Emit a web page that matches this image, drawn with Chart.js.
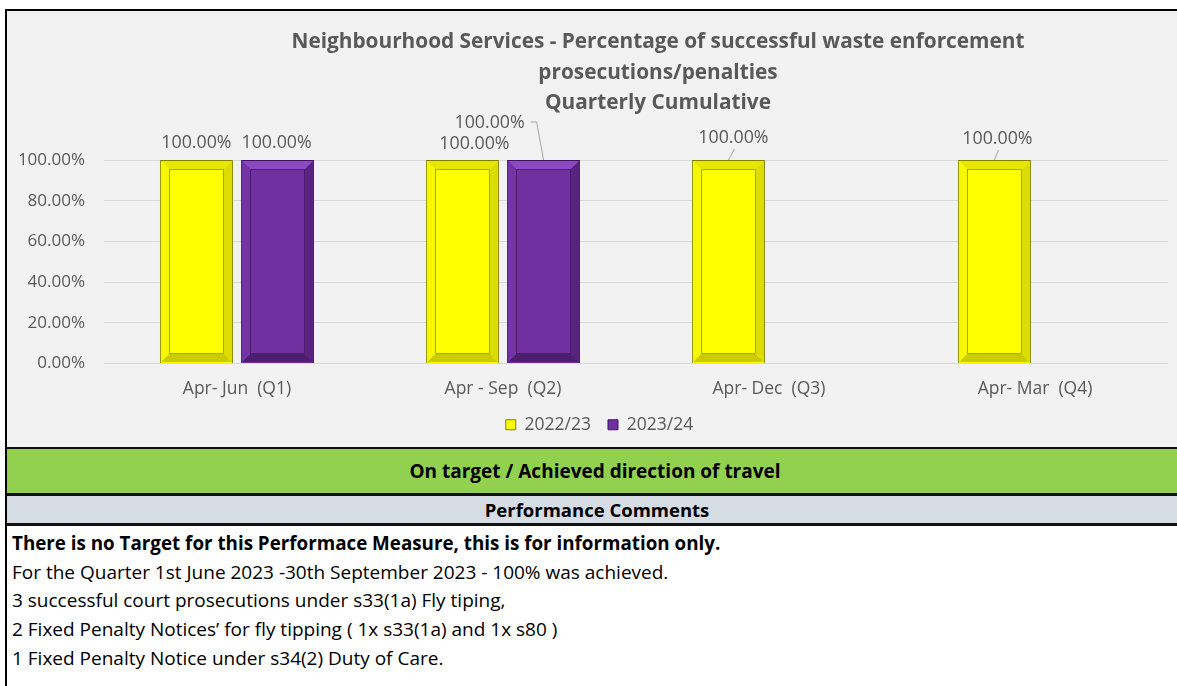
<!DOCTYPE html>
<html>
<head>
<meta charset="utf-8">
<script src="https://cdn.jsdelivr.net/npm/chart.js@4.4.0/dist/chart.umd.min.js"></script>
<style>
  html, body { margin:0; padding:0; background:#fff; width:1177px; height:686px; overflow:hidden; }
  body { font-family: "Open Sans", Lato, sans-serif; }
  #frame { position:absolute; left:5px; top:9px; width:1172px; height:677px; border-left:2px solid #000; border-top:2px solid #000; }
  #chartbox { position:relative; height:436px; background:#f2f2f2; }
  #chartbox canvas { position:absolute; left:0; top:0; }
  #title { position:absolute; top:14px; left:651px; transform:translateX(-50%); white-space:nowrap; text-align:center;
           font-weight:bold; font-size:20.8px; line-height:30.5px; color:#595959; }
  .line2 { height:2px; background:#111; }
  .line3 { height:3px; background:#111; }
  #status { height:44px; background:#92d050; font-weight:bold; font-size:19px; color:#000; display:flex; align-items:center; justify-content:center; padding-left:4px; }
  #comhead { height:27px; background:#d6dce4; font-weight:bold; font-size:18.5px; color:#000; display:flex; align-items:center; justify-content:center; padding-left:8px; }
  #comments { padding:3px 0 0 5px; font-size:19px; line-height:28.7px; color:#000; }
  #comments b { font-weight:bold; font-size:18.8px; }
</style>
</head>
<body>
<div id="frame">
  <div id="chartbox">
    <canvas id="c" width="1170" height="436"></canvas>
    <div id="title">Neighbourhood Services - Percentage of successful waste enforcement<br>prosecutions/penalties<br>Quarterly Cumulative</div>
  </div>
  <div class="line2"></div>
  <div id="status">On target / Achieved direction of travel</div>
  <div class="line3"></div>
  <div id="comhead">Performance Comments</div>
  <div class="line3"></div>
  <div id="comments">
    <b>There is no Target for this Performace Measure, this is for information only.</b><br>
    For the Quarter 1st June 2023 -30th September 2023 - 100% was achieved.<br>
    3 successful court prosecutions under s33(1a) Fly tiping,<br>
    2 Fixed Penalty Notices’ for fly tipping ( 1x s33(1a) and 1x s80 )<br>
    1 Fixed Penalty Notice under s34(2) Duty of Care.
  </div>
</div>
<script>
// ---- data ----
const categories = ["Apr- Jun  (Q1)", "Apr - Sep  (Q2)", "Apr- Dec  (Q3)", "Apr- Mar  (Q4)"];
const series2223 = [100, 100, 100, 100];
const series2324 = [100, 100, null, null];
const seriesNames = ["2022/23", "2023/24"];
const yTicks = [0, 20, 40, 60, 80, 100];

// ---- styles ----
const TEXT = "#595959";
const FONT = "'Open Sans', Lato, sans-serif";
const bevelStyles = [
  { top:"#e6e600", left:"#f7f700", right:"#dcdc00", bottom:"#cbcb00", inner:"#a8a800" },
  { top:"#8c48bf", left:"#7434a4", right:"#58237f", bottom:"#4d1e70", inner:"#4a1c6c" }
];
// label placement relative to the bar's top centre (dx, dy) with optional leader line
const labelPlacement = [
  [ {dx:0, dy:-17}, {dx:12, dy:-16}, {dx:5, dy:-22, leader:true}, {dx:3, dy:-21, leader:true} ],
  [ {dx:-1, dy:-17}, {dx:-54, dy:-37, leader:true, elbow:true}, null, null ]
];
const legendShift = { dx: 12, dy: -3.5 };

const legendShiftPlugin = {
  id: 'legendShift',
  afterLayout(chart) {
    const lg = chart.legend;
    if (!lg) return;
    lg.left += legendShift.dx; lg.right += legendShift.dx;
    lg.top += legendShift.dy; lg.bottom += legendShift.dy;
  }
};

const bevelPlugin = {
  id: 'bevel',
  afterDatasetsDraw(chart) {
    const ctx = chart.ctx;
    chart.data.datasets.forEach((ds, di) => {
      const meta = chart.getDatasetMeta(di);
      const st = bevelStyles[di];
      meta.data.forEach((bar, i) => {
        if (ds.data[i] == null) return;
        const p = bar.getProps(['x','y','base','width'], true);
        const L = p.x - p.width/2 + 1, R = p.x + p.width/2 - 1, T = p.y + 1, B = p.base - 1;
        const k = 8;
        const poly = (pts, c) => { ctx.beginPath(); ctx.moveTo(pts[0][0], pts[0][1]); pts.slice(1).forEach(q => ctx.lineTo(q[0], q[1])); ctx.closePath(); ctx.fillStyle = c; ctx.fill(); };
        ctx.save();
        poly([[L,T],[R,T],[R-k,T+k],[L+k,T+k]], st.top);
        poly([[R,T],[R,B],[R-k,B-k],[R-k,T+k]], st.right);
        poly([[L,B],[R,B],[R-k,B-k],[L+k,B-k]], st.bottom);
        poly([[L,T],[L+k,T+k],[L+k,B-k],[L,B]], st.left);
        ctx.strokeStyle = st.inner; ctx.lineWidth = 1;
        ctx.strokeRect(Math.round(L+k)+0.5, Math.round(T+k)+0.5, Math.round(R-L-2*k)-1, Math.round(B-T-2*k)-1);
        ctx.restore();
      });
    });
  }
};

const labelPlugin = {
  id: 'valueLabels',
  afterDatasetsDraw(chart) {
    const ctx = chart.ctx;
    ctx.save();
    ctx.font = "17.8px " + FONT;
    ctx.fillStyle = TEXT;
    ctx.textAlign = 'center';
    ctx.textBaseline = 'middle';
    chart.data.datasets.forEach((ds, di) => {
      const meta = chart.getDatasetMeta(di);
      meta.data.forEach((bar, i) => {
        const v = ds.data[i];
        if (v == null) return;
        const pl = labelPlacement[di][i] || {dx:0, dy:-17};
        const tx = bar.x + pl.dx, ty = bar.y + pl.dy;
        const txt = v.toFixed(2) + '%';
        if (pl.leader) {
          ctx.strokeStyle = '#a6a6a6'; ctx.lineWidth = 1;
          ctx.beginPath();
          if (pl.elbow) {
            const w = ctx.measureText(txt).width;
            ctx.moveTo(tx + w/2 + 6, ty - 1);
            ctx.lineTo(tx + w/2 + 12, ty - 1);
          } else {
            ctx.moveTo(tx + 1, ty + 11);
          }
          ctx.lineTo(bar.x, bar.y);
          ctx.stroke();
        }
        ctx.fillText(txt, tx, ty);
      });
    });
    ctx.restore();
  }
};

new Chart(document.getElementById('c'), {
  type: 'bar',
  data: {
    labels: categories,
    datasets: [
      { label: seriesNames[0], data: series2223, backgroundColor: '#ffff00', borderColor: '#7f7f00', borderWidth: 1 },
      { label: seriesNames[1], data: series2324, backgroundColor: '#7030a0', borderColor: '#3d1460', borderWidth: 1 }
    ]
  },
  options: {
    responsive: false,
    animation: false,
    devicePixelRatio: 1,
    categoryPercentage: 0.61,
    barPercentage: 0.9,
    layout: { padding: { top: 149, left: 0, right: 9, bottom: 0 } },
    plugins: {
      legend: {
        position: 'bottom',
        labels: { boxWidth: 10, boxHeight: 10, color: TEXT, font: { family: FONT, size: 17.5 }, padding: 17 }
      },
      title: { display: false },
      tooltip: { enabled: false }
    },
    scales: {
      x: {
        grid: { display: false, drawTicks: false },
        border: { display: false },
        ticks: { color: TEXT, font: { family: FONT, size: 17.5 }, padding: 15, maxRotation: 0 },
        afterFit: s => { s.height = 39; }
      },
      y: {
        min: 0, max: 100,
        afterBuildTicks: s => { s.ticks = yTicks.map(v => ({ value: v })); },
        ticks: { color: TEXT, font: { family: FONT, size: 17 }, padding: 19, callback: v => v.toFixed(2) + '%' },
        grid: { color: '#d9d9d9', drawTicks: false },
        border: { display: false },
        afterFit: s => { s.width = 97; }
      }
    }
  },
  plugins: [legendShiftPlugin, bevelPlugin, labelPlugin]
});
</script>
</body>
</html>
